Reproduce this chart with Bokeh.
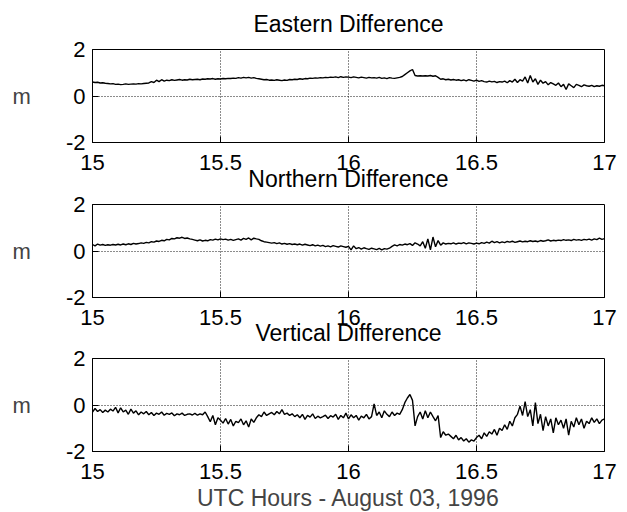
from bokeh.plotting import figure
from bokeh.models import Range1d, FixedTicker
from bokeh.layouts import column
from bokeh.embed import file_html
from bokeh.resources import INLINE

# ---------------- data ----------------
# sample times, UTC hours, every 0.01 h from 15.00 to 17.00
hours = [round(15 + 0.01 * i, 2) for i in range(201)]

eastern = [
    0.60, 0.58, 0.59, 0.56, 0.57, 0.55, 0.54, 0.52, 0.53, 0.50,
    0.51, 0.49, 0.50, 0.52, 0.50, 0.51, 0.52, 0.51, 0.53, 0.52,
    0.54, 0.55, 0.56, 0.62, 0.58, 0.68, 0.62, 0.70, 0.64, 0.68,
    0.66, 0.70, 0.67, 0.69, 0.71, 0.68, 0.70, 0.69, 0.72, 0.70,
    0.71, 0.72, 0.70, 0.73, 0.72, 0.74, 0.73, 0.75, 0.72, 0.74,
    0.73, 0.75, 0.74, 0.76, 0.75, 0.77, 0.76, 0.79, 0.77, 0.80,
    0.78, 0.80, 0.77, 0.79, 0.76, 0.74, 0.72, 0.70, 0.71, 0.68,
    0.69, 0.67, 0.70, 0.68, 0.66, 0.69, 0.67, 0.71, 0.70, 0.72,
    0.71, 0.74, 0.72, 0.75, 0.74, 0.77, 0.76, 0.78, 0.77, 0.79,
    0.78, 0.80, 0.79, 0.81, 0.80, 0.82, 0.79, 0.83, 0.80, 0.82,
    0.81, 0.79, 0.82, 0.80, 0.78, 0.81, 0.79, 0.77, 0.80, 0.78,
    0.79, 0.77, 0.80, 0.76, 0.78, 0.75, 0.79, 0.77, 0.76, 0.78,
    0.80, 0.84, 0.92, 1.00, 1.08, 1.14, 0.88, 0.86, 0.87, 0.86,
    0.87, 0.86, 0.88, 0.85, 0.87, 0.80, 0.72, 0.74, 0.70, 0.72,
    0.69, 0.71, 0.68, 0.70, 0.66, 0.69, 0.65, 0.70, 0.67, 0.64,
    0.68, 0.63, 0.66, 0.62, 0.60, 0.64, 0.61, 0.63, 0.58, 0.62,
    0.60, 0.64, 0.57, 0.66, 0.60, 0.72, 0.58, 0.70, 0.64, 0.82,
    0.56, 0.88, 0.60, 0.74, 0.50, 0.68, 0.55, 0.62, 0.48, 0.58,
    0.52, 0.46, 0.56, 0.40, 0.50, 0.28, 0.52, 0.44, 0.36, 0.50,
    0.46, 0.40, 0.48, 0.44, 0.42, 0.46, 0.40, 0.44, 0.42, 0.46,
    0.44,
]

northern = [
    0.28, 0.22, 0.30, 0.25, 0.28, 0.24, 0.27, 0.25, 0.28, 0.26,
    0.29, 0.26, 0.30, 0.27, 0.31, 0.28, 0.33, 0.30, 0.32, 0.35,
    0.33, 0.37, 0.35, 0.40, 0.38, 0.43, 0.41, 0.46, 0.44, 0.50,
    0.48, 0.54, 0.52, 0.57, 0.55, 0.59, 0.54, 0.56, 0.52, 0.50,
    0.47, 0.44, 0.48, 0.43, 0.46, 0.44, 0.49, 0.47, 0.51, 0.48,
    0.52, 0.49, 0.51, 0.47, 0.50, 0.46, 0.49, 0.52, 0.47, 0.54,
    0.50, 0.56, 0.48, 0.55, 0.52, 0.50, 0.44, 0.40, 0.38, 0.36,
    0.34, 0.36, 0.32, 0.35, 0.30, 0.33, 0.29, 0.32, 0.28, 0.30,
    0.27, 0.30, 0.25, 0.29, 0.26, 0.23, 0.27, 0.22, 0.25, 0.21,
    0.24, 0.19, 0.22, 0.18, 0.23, 0.20, 0.17, 0.22, 0.19, 0.16,
    0.20, 0.05, 0.22, 0.10, 0.15, 0.08, 0.14, 0.10, 0.07, 0.12,
    0.09, 0.06, 0.11, 0.05, 0.10, 0.08, 0.12, 0.20, 0.26, 0.22,
    0.28, 0.25, 0.30, 0.27, 0.32, 0.24, 0.35, 0.30, 0.22, 0.40,
    0.12, 0.52, 0.05, 0.60, 0.18, 0.45, 0.25, 0.35, 0.30, 0.33,
    0.31, 0.35, 0.30, 0.34, 0.32, 0.36, 0.31, 0.35, 0.33, 0.30,
    0.34, 0.31, 0.36, 0.33, 0.38, 0.34, 0.42, 0.36, 0.40, 0.35,
    0.39, 0.36, 0.41, 0.38, 0.42, 0.37, 0.40, 0.43, 0.39, 0.42,
    0.40, 0.44, 0.41, 0.43, 0.40, 0.45, 0.42, 0.44, 0.48, 0.43,
    0.46, 0.44, 0.47, 0.45, 0.49, 0.46, 0.48, 0.45, 0.50, 0.47,
    0.49, 0.46, 0.50, 0.48, 0.51, 0.47, 0.52, 0.49, 0.55, 0.50,
    0.53,
]

vertical = [
    -0.30, -0.15, -0.28, -0.20, -0.32, -0.22, -0.30, -0.18, -0.26, -0.10,
    -0.34, -0.12, -0.30, -0.22, -0.40, -0.18, -0.35, -0.25, -0.42, -0.30,
    -0.38, -0.28, -0.42, -0.32, -0.45, -0.35, -0.40, -0.30, -0.44, -0.36,
    -0.40, -0.34, -0.46, -0.38, -0.42, -0.35, -0.45, -0.40, -0.38, -0.43,
    -0.36, -0.44, -0.38, -0.42, -0.30, -0.50, -0.72, -0.45, -0.85, -0.55,
    -0.65, -0.78, -0.58, -0.82, -0.62, -0.90, -0.70, -0.76, -0.60, -0.85,
    -0.68, -0.95, -0.60, -0.75, -0.55, -0.42, -0.50, -0.30, -0.45, -0.38,
    -0.32, -0.42, -0.28, -0.38, -0.20, -0.40, -0.35, -0.45, -0.38, -0.50,
    -0.42, -0.55, -0.40, -0.62, -0.45, -0.52, -0.38, -0.58, -0.48, -0.55,
    -0.50, -0.44, -0.58, -0.46, -0.52, -0.40, -0.62, -0.45, -0.55, -0.35,
    -0.60, -0.42, -0.55, -0.45, -0.65, -0.48, -0.55, -0.40, -0.60, -0.50,
    0.05, -0.45, -0.30, -0.55, -0.25, -0.40, -0.50, -0.30, -0.45, -0.35,
    -0.40, -0.20, 0.10, 0.30, 0.45, 0.20, -0.90, -0.50, -0.30, -0.60,
    -0.25, -0.55, -0.30, -0.50, -0.68, -0.45, -1.40, -1.15, -1.30, -1.25,
    -1.35, -1.45, -1.30, -1.50, -1.40, -1.55, -1.45, -1.60, -1.50, -1.55,
    -1.40, -1.30, -1.45, -1.20, -1.35, -1.15, -1.25, -1.05, -1.30, -1.00,
    -1.10, -0.85, -1.05, -0.70, -0.90, -0.55, -0.40, -0.05, -0.45, 0.15,
    -0.50, -0.20, -0.90, 0.10, -0.80, -0.40, -1.10, -0.50, -0.90, -0.60,
    -1.20, -0.55, -0.85, -0.65, -1.00, -0.60, -1.30, -0.70, -0.95, -0.55,
    -0.85, -0.60, -1.00, -0.70, -0.80, -0.55, -0.75, -0.60, -0.80, -0.65,
    -0.60,
]

titles = ["Eastern Difference", "Northern Difference", "Vertical Difference"]
x_ticks = [15, 15.5, 16, 16.5, 17]
x_tick_labels = ["15", "15.5", "16", "16.5", "17"]
y_ticks = [-2, 0, 2]
y_tick_labels = ["-2", "0", "2"]
x_label = "UTC Hours - August 03, 1996"
y_label = "m"

FONT = "Liberation Sans"


def panel(title, values, bottom, shift, last):
    p = figure(frame_width=512, frame_height=93,
               x_range=Range1d(15, 17), y_range=Range1d(-2, 2),
               output_backend="svg", toolbar_location=None,
               min_border_left=92, min_border_right=16,
               min_border_top=57, min_border_bottom=bottom,
               margin=(shift, 0, 0, 0),
               title=title)
    p.title.align = "center"
    p.title.text_font = FONT
    p.title.text_font_size = "23px"
    p.title.text_font_style = "normal"
    p.title.text_color = "black"
    p.title.standoff = 26

    p.line(hours, values, line_color="black", line_width=1.4)

    p.outline_line_color = "black"
    p.outline_line_alpha = 1
    p.outline_line_width = 1
    p.background_fill_color = None
    p.border_fill_color = None

    xa = p.xaxis[0]
    xa.ticker = FixedTicker(ticks=x_ticks)
    xa.major_label_overrides = {t: s for t, s in zip(x_ticks, x_tick_labels)}
    ya = p.yaxis[0]
    ya.ticker = FixedTicker(ticks=y_ticks)
    ya.major_label_overrides = {t: s for t, s in zip(y_ticks, y_tick_labels)}
    for ax in (xa, ya):
        ax.major_tick_in = 6
        ax.major_tick_out = 0
        ax.minor_tick_line_color = None
        ax.axis_line_color = "black"
        ax.major_tick_line_color = "black"
        ax.major_label_text_font = FONT
        ax.major_label_text_font_size = "22px"
        ax.major_label_text_color = "black"
    xa.major_label_standoff = 12
    ya.major_label_standoff = 7

    ya.axis_label = y_label
    ya.axis_label_orientation = "horizontal"
    ya.axis_label_text_font = FONT
    ya.axis_label_text_font_size = "22px"
    ya.axis_label_text_font_style = "normal"
    ya.axis_label_standoff = 32

    if last:
        xa.axis_label = x_label
        xa.axis_label_text_font = FONT
        xa.axis_label_text_font_size = "23px"
        xa.axis_label_text_font_style = "normal"
        xa.axis_label_standoff = 3

    p.xgrid.ticker = FixedTicker(ticks=[15.5, 16, 16.5])
    p.ygrid.ticker = FixedTicker(ticks=[0])
    for g in (p.xgrid, p.ygrid):
        g.grid_line_color = "black"
        g.grid_line_dash = "1 2"
        g.grid_line_width = 1
        g.grid_line_alpha = 0.9
    return p


# frames at y = 49, 204, 358 (height 93); figures overlap slightly so that
# tick labels of one panel and the title of the next can sit as in the original
p1 = panel(titles[0], eastern, 40, -8, False)
p2 = panel(titles[1], northern, 40, -35, False)
p3 = panel(titles[2], vertical, 60, -36, True)

layout = column(p1, p2, p3, spacing=0)

open("out.html", "w").write(file_html(layout, INLINE))
